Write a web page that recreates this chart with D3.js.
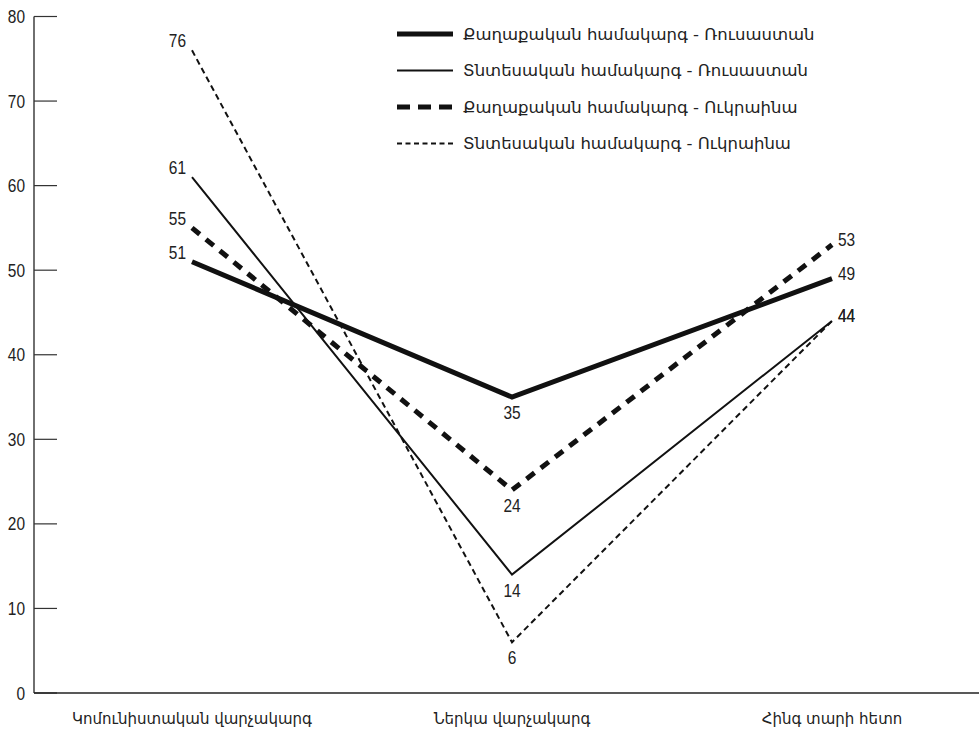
<!DOCTYPE html>
<html>
<head>
<meta charset="utf-8">
<script src="https://cdn.jsdelivr.net/npm/d3@7"></script>
<style>
  html, body { margin: 0; padding: 0; background: #fff; }
  svg text { fill: #222; }
  .num { font-family: "Liberation Sans", Arial, sans-serif; font-size: 18px; }
  .arm { font-family: "DejaVu Sans", "Noto Sans", sans-serif; font-size: 15px; }
  .leg { font-family: "DejaVu Sans", "Noto Sans", sans-serif; font-size: 16.5px; }
</style>
</head>
<body>
<svg id="chart" width="979" height="734"></svg>
<script>
// Categories along the x axis
const categories = ["Կոմունիստական վարչակարգ", "Ներկա վարչակարգ", "Հինգ տարի հետո"];

// Series names
const seriesNames = [
  "Քաղաքական համակարգ - Ռուսաստան",
  "Տնտեսական համակարգ - Ռուսաստան",
  "Քաղաքական համակարգ - Ուկրաինա",
  "Տնտեսական համակարգ - Ուկրաինա"
];

// Series values (one per category)
const politicalRussia = [51, 35, 49];
const economicRussia = [61, 14, 44];
const politicalUkraine = [55, 24, 53];
const economicUkraine = [76, 6, 44];

// Y axis ticks
const yTicks = [0, 10, 20, 30, 40, 50, 60, 70, 80];

// Line styles per series
const styles = [
  { width: 5, dash: null, legendDash: null },
  { width: 2, dash: null, legendDash: null },
  { width: 5, dash: "10,8", legendDash: "13,8" },
  { width: 2, dash: "6,4", legendDash: "5,3.5" }
];

const series = [politicalRussia, economicRussia, politicalUkraine, economicUkraine]
  .map((values, i) => ({ name: seriesNames[i], values, style: styles[i] }));

const svg = d3.select("#chart");

const x = d3.scalePoint().domain(categories).range([192, 832]);
const y = d3.scaleLinear().domain([0, 80]).range([693, 16.5]);
const axisX0 = 34;

// Numeric labels are drawn slightly condensed
function numText(g, px, py, anchor, txt) {
  g.append("text").attr("class", "num")
    .attr("transform", `translate(${px},${py}) scale(0.86,1)`)
    .attr("text-anchor", anchor)
    .text(txt);
}

// Y axis: vertical line plus short ticks pointing into the plot
svg.append("line")
  .attr("x1", axisX0).attr("x2", axisX0)
  .attr("y1", y(80)).attr("y2", y(0))
  .attr("stroke", "#222").attr("stroke-width", 1.3);

const yAxis = svg.append("g");
yAxis.selectAll("line.tick")
  .data(yTicks)
  .join("line")
  .attr("x1", axisX0).attr("x2", axisX0 + 23)
  .attr("y1", d => y(d)).attr("y2", d => y(d))
  .attr("stroke", "#333").attr("stroke-width", 1.2);
yTicks.forEach(t => numText(yAxis, 25, y(t) + 6.5, "end", t));

// X axis baseline
svg.append("line")
  .attr("x1", axisX0).attr("x2", 979)
  .attr("y1", y(0)).attr("y2", y(0))
  .attr("stroke", "#222").attr("stroke-width", 1.5);

svg.append("g").selectAll("text")
  .data(categories)
  .join("text")
  .attr("class", "arm")
  .attr("x", d => x(d))
  .attr("y", 724)
  .attr("text-anchor", "middle")
  .text(d => d);

// Lines
const line = d3.line()
  .x((d, i) => x(categories[i]))
  .y(d => y(d));

svg.append("g").selectAll("path")
  .data(series)
  .join("path")
  .attr("d", d => line(d.values))
  .attr("fill", "none")
  .attr("stroke", "#111")
  .attr("stroke-width", d => d.style.width)
  .attr("stroke-dasharray", d => d.style.dash)
  .attr("stroke-linejoin", "miter");

// Value labels: left of the first point, below the middle point, right of the last point
const labels = svg.append("g");
series.forEach(s => {
  numText(labels, x(categories[0]) - 6, y(s.values[0]) - 3, "end", s.values[0]);
  numText(labels, x(categories[1]), y(s.values[1]) + 22, "middle", s.values[1]);
  numText(labels, x(categories[2]) + 6, y(s.values[2]) + 1, "start", s.values[2]);
});

// Legend
const legend = svg.append("g").attr("transform", "translate(397,34)");
const rows = legend.selectAll("g")
  .data(series)
  .join("g")
  .attr("transform", (d, i) => `translate(0,${i * 36.5})`);
rows.append("line")
  .attr("x1", 0).attr("x2", 56)
  .attr("stroke", "#111")
  .attr("stroke-width", d => d.style.width)
  .attr("stroke-dasharray", d => d.style.legendDash);
rows.append("text")
  .attr("class", "leg")
  .attr("x", 66)
  .attr("dy", "0.35em")
  .text(d => d.name);
</script>
</body>
</html>
